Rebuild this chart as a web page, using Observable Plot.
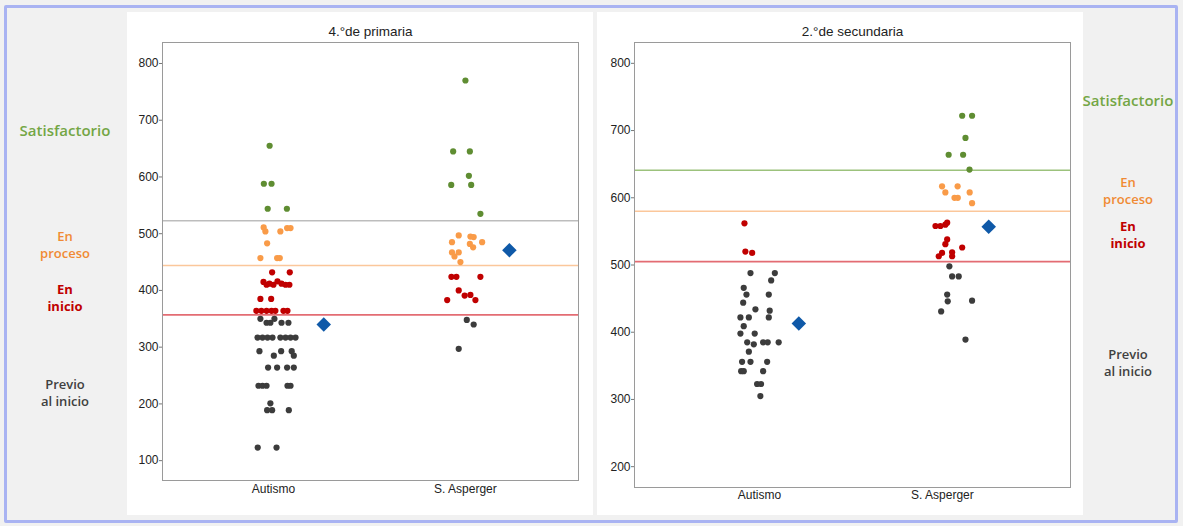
<!DOCTYPE html>
<html>
<head>
<meta charset="utf-8">
<script src="https://cdn.jsdelivr.net/npm/d3@7"></script>
<script src="https://cdn.jsdelivr.net/npm/@observablehq/plot@0.6"></script>
<style>
  body { margin: 0; background: #ffffff; }
  #page { position: relative; width: 1183px; height: 526px; background: #f1f1f1; overflow: hidden; }
  #border { position: absolute; left: 4px; top: 5px; width: 1168px; height: 512px; border: 3px solid #a9b3f2; border-radius: 2px; }
  .panel { position: absolute; background: #ffffff; }
  .lab { position: absolute; font-family: "Open Sans", "Noto Sans", sans-serif; font-size: 13px; text-align: center; line-height: 17px; font-weight: 600; }
  .big { font-size: 15px; line-height: 20px; }
</style>
</head>
<body>
<div id="page">
  <div id="border"></div>
  <div class="panel" id="p1" style="left:127px;top:12px;width:466px;height:503px;"></div>
  <div class="panel" id="p2" style="left:597px;top:12px;width:486px;height:503px;"></div>
  <div class="lab big" style="left:5px;top:120px;width:120px;color:#74a645;">Satisfactorio</div>
  <div class="lab" style="left:10px;top:228px;width:110px;color:#f08a33;">En<br>proceso</div>
  <div class="lab" style="left:10px;top:281px;width:110px;color:#c00000;font-weight:700;">En<br>inicio</div>
  <div class="lab" style="left:10px;top:376px;width:110px;color:#404040;">Previo<br>al inicio</div>
  <div class="lab big" style="left:1068px;top:90px;width:120px;color:#74a645;">Satisfactorio</div>
  <div class="lab" style="left:1073px;top:174px;width:110px;color:#f08a33;">En<br>proceso</div>
  <div class="lab" style="left:1073px;top:218px;width:110px;color:#c00000;font-weight:700;">En<br>inicio</div>
  <div class="lab" style="left:1073px;top:346px;width:110px;color:#404040;">Previo<br>al inicio</div>
</div>
<script>
// ---------- data ----------
const categories = ["Autismo", "S. Asperger"];
const titles = ["4.°de primaria", "2.°de secundaria"];

// 4.° de primaria: [x (1 = Autismo, 2 = S. Asperger, with jitter), score]
const primGreen = [[0.98,655],[0.95,588],[0.99,588],[0.97,544],[1.07,544],
  [2.0,770],[1.936,645],[2.023,645],[2.018,602],[1.926,586],[2.030,586],[2.078,535]];
const primOrange = [[0.949,511],[0.958,504],[1.036,504],[1.071,510],[1.089,510],[0.967,483],[0.932,457],[1.019,457],[1.033,457],
  [1.965,497],[1.930,485],[2.026,495],[2.043,494],[2.023,482],[2.040,476],[2.087,485],[1.930,467],[1.965,467],[1.943,460],[1.974,450]];
const primRed = [[0.993,432],[1.085,432],[0.948,415],[0.964,410],[0.979,412],[1.0,410],[1.021,416],[1.042,412],[1.063,410],[1.083,410],
  [0.932,385],[0.988,385],[0.911,364],[0.937,364],[0.964,364],[0.990,364],[1.010,364],[1.052,364],[1.073,364],
  [1.927,424],[1.953,424],[2.078,424],[1.965,400],[1.996,391],[2.026,392],[2.052,383],[1.905,383]];
const primGray = [[0.932,350],[0.964,343],[0.984,343],[1.005,350],[1.042,343],[1.078,343],
  [0.917,317],[0.943,317],[0.969,317],[0.995,317],[1.036,317],[1.063,317],[1.089,317],[1.115,317],
  [0.927,293],[1.002,285],[1.040,293],[1.095,293],[1.106,285],
  [0.972,264],[1.019,264],[1.071,264],[1.106,264],
  [0.922,232],[0.943,232],[0.964,232],[1.073,232],[1.089,232],
  [0.984,201],[0.967,189],[0.993,189],[1.080,189],
  [0.918,123],[1.016,123],
  [2.007,348],[2.043,340],[1.965,297]];
const primMean = [[1.262,340],[2.229,471]];
const primThresholds = [357, 444, 523];

// 2.° de secundaria
const secGreen = [[2.108,722],[2.162,722],[2.126,689],[2.034,664],[2.113,664],[2.148,642]];
const secOrange = [[1.998,617],[2.016,608],[2.083,617],[2.066,600],[2.084,600],[2.149,608],[2.162,592]];
const secRed = [[0.918,562],[0.923,520],[0.960,518],
  [1.962,558],[1.989,558],[2.016,560],[2.026,563],[2.026,538],[2.016,531],[2.108,526],[1.998,518],[1.980,513],[2.053,519],[2.053,513]];
const secGray = [[0.951,488],[1.084,488],[1.064,477],[0.914,466],[0.929,456],[1.051,456],[0.911,444],[0.978,434],[1.056,432],
  [0.896,422],[0.942,422],[1.051,422],[0.914,409],[0.896,398],[0.974,398],[0.933,385],[0.969,382],[1.020,385],[1.045,385],[1.105,385],
  [0.942,371],[0.905,356],[0.951,356],[1.042,356],[0.900,342],[0.914,342],[1.020,342],[0.987,323],[1.009,323],[1.005,305],
  [2.038,498],[2.053,483],[2.089,483],[2.026,456],[2.029,446],[2.162,447],[1.993,431],[2.126,389]];
const secMean = [[1.215,413],[2.253,557]];
const secThresholds = [505, 580, 641];

const primTicks = [100, 200, 300, 400, 500, 600, 700, 800];
const secTicks = [200, 300, 400, 500, 600, 700, 800];

// ---------- styles ----------
const C = {green: "#5f8d32", orange: "#f99b48", red: "#c00000", gray: "#3c3c3c", mean: "#0f59a8"};

// square rotated 45° (equal width and height)
const rhombus = {
  draw(context, size) {
    const h = Math.sqrt(size / 2);
    context.moveTo(0, -h);
    context.lineTo(h, 0);
    context.lineTo(0, h);
    context.lineTo(-h, 0);
    context.closePath();
  }
};

function panel(o) {
  return Plot.plot({
    width: o.width, height: o.height,
    marginLeft: o.ml, marginRight: o.mr, marginTop: o.mt, marginBottom: o.mb,
    x: {domain: o.xDomain},
    y: {domain: o.yDomain},
    style: {fontFamily: "'Liberation Sans', Arial, sans-serif", fontSize: "12px", background: "transparent", color: "#222"},
    marks: [
      Plot.ruleY(o.thresholds, {stroke: (d, i) => o.lineColors[i], strokeWidth: (d, i) => o.lineWidths[i]}),
      Plot.dot(o.gray, {x: "0", y: "1", r: 3.1, fill: C.gray}),
      Plot.dot(o.red, {x: "0", y: "1", r: 3.1, fill: C.red}),
      Plot.dot(o.orange, {x: "0", y: "1", r: 3.1, fill: C.orange}),
      Plot.dot(o.green, {x: "0", y: "1", r: 3.1, fill: C.green}),
      Plot.dot(o.mean, {x: "0", y: "1", r: 5.8, symbol: rhombus, fill: C.mean}),
      Plot.frame({stroke: "#9a9a9a"}),
      Plot.axisY({ticks: o.yTicks, tickSize: 3, tickPadding: 1, label: null, stroke: "#777"}),
      Plot.axisX({ticks: [1, 2], tickFormat: d => categories[d - 1], tickSize: 0, tickPadding: o.xPad, label: null}),
      Plot.text([o.title], {text: d => d, frameAnchor: "top", dy: -16, fontSize: 13.5})
    ]
  });
}

const p1 = panel({
  width: 466, height: 503, ml: 35, mr: 15, mt: 30, mb: 35,
  xDomain: [0.422, 2.589], yDomain: [65, 837], yTicks: primTicks,
  thresholds: primThresholds, lineColors: ["#e36c73", "#fbc79b", "#bdbdbd"], lineWidths: [1.8, 1.5, 1.5],
  green: primGreen, orange: primOrange, red: primRed, gray: primGray, mean: primMean,
  title: titles[0], xPad: 4
});
const p2 = panel({
  width: 486, height: 503, ml: 37, mr: 13, mt: 30, mb: 28,
  xDomain: [0.317, 2.70], yDomain: [169, 831], yTicks: secTicks,
  thresholds: secThresholds, lineColors: ["#e36c73", "#fbc79b", "#9cc27c"], lineWidths: [1.8, 1.5, 1.5],
  green: secGreen, orange: secOrange, red: secRed, gray: secGray, mean: secMean,
  title: titles[1], xPad: 3
});
document.getElementById("p1").appendChild(p1);
document.getElementById("p2").appendChild(p2);
</script>
</body>
</html>
